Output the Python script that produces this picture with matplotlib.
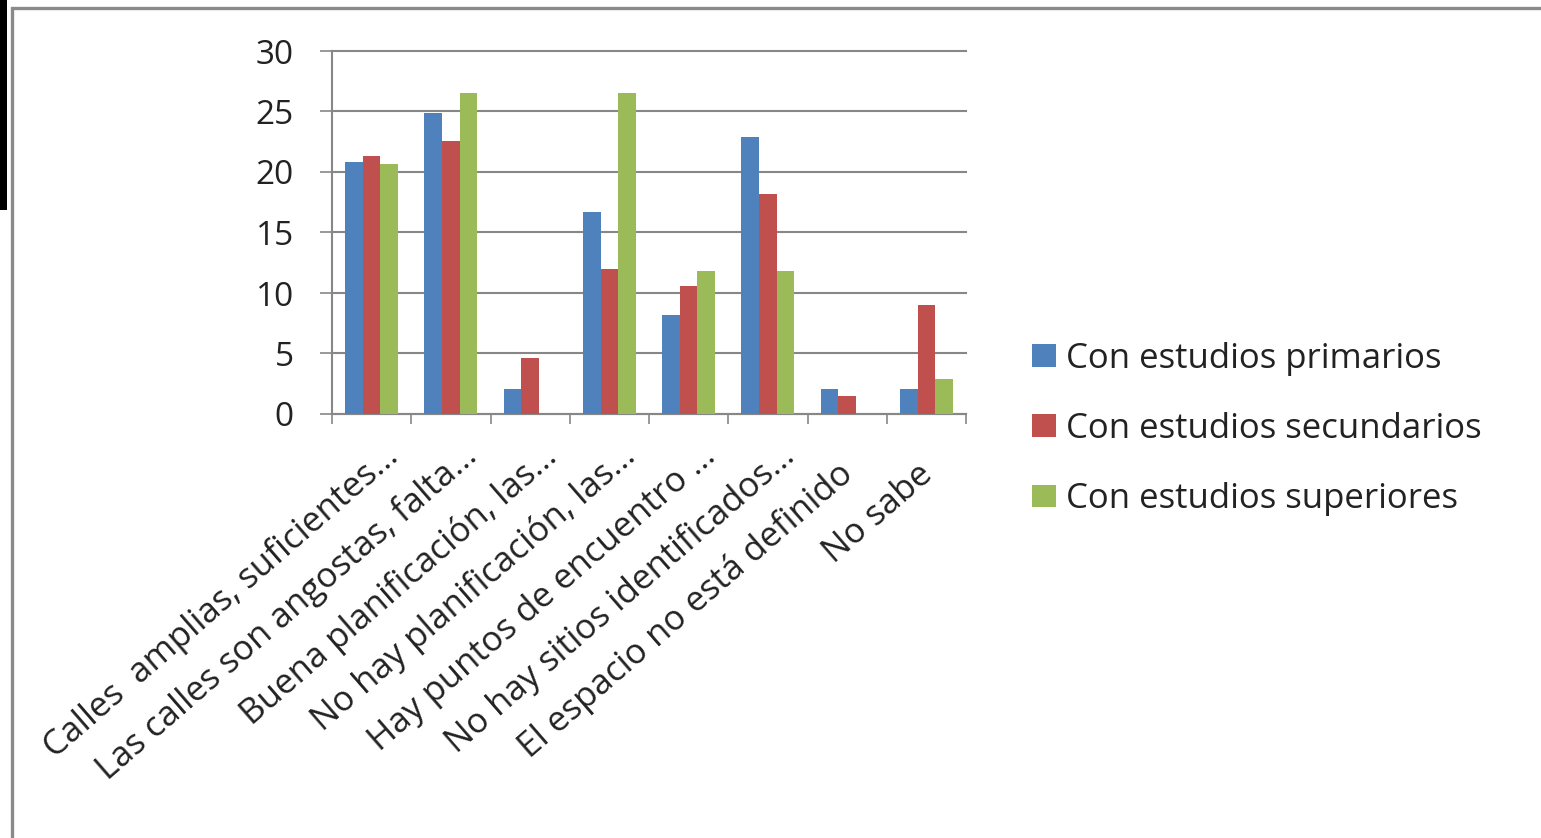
import numpy as np
import matplotlib
matplotlib.use("Agg")
import matplotlib.pyplot as plt
from matplotlib.patches import Rectangle
from matplotlib.lines import Line2D

# ---------------- data ----------------
categories = [
    "Calles  amplias, suficientes…",
    "Las calles son angostas, falta…",
    "Buena planificación, las…",
    "No hay planificación, las…",
    "Hay puntos de encuentro …",
    "No hay sitios identificados…",
    "El espacio no está definido",
    "No sabe",
]
series_names = ["Con estudios primarios", "Con estudios secundarios", "Con estudios superiores"]
primarios = [20.8, 24.9, 2.1, 16.7, 8.2, 22.9, 2.1, 2.1]
secundarios = [21.3, 22.6, 4.6, 12.0, 10.6, 18.2, 1.5, 9.0]
superiores = [20.7, 26.5, 0.0, 26.5, 11.8, 11.8, 0.0, 2.9]
y_ticks = [0, 5, 10, 15, 20, 25, 30]

colors = ["#4F81BD", "#C0504D", "#9BBB59"]
FONT = ["Open Sans", "DejaVu Sans"]
plt.rcParams["font.family"] = FONT

W, H = 1541, 838
DPI = 100
fig = plt.figure(figsize=(W / DPI, H / DPI), dpi=DPI)
fig.patch.set_facecolor("white")

# outer frame + black strip
fig.add_artist(Line2D([12 / W, 12 / W, 1.0], [0.0, 1 - 8 / H, 1 - 8 / H],
                      transform=fig.transFigure, color="#8a8a8a", lw=2.4,
                      solid_joinstyle="miter"))
fig.add_artist(Rectangle((0, 1 - 210 / H), 7 / W, 210 / H, transform=fig.transFigure,
                         facecolor="black", edgecolor="none"))

ax = fig.add_axes([332 / W, 1 - 414 / H, (966 - 332) / W, (414 - 51) / H])
x = np.arange(len(categories))
bw = 1 / 4.5
all_series = [primarios, secundarios, superiores]
for k, (vals, name, col) in enumerate(zip(all_series, series_names, colors)):
    ax.bar(x + (k - 1) * bw, vals, width=bw, color=col, label=name, zorder=3,
           linewidth=0)

ax.set_xlim(-0.5, len(categories) - 0.5)
ax.set_ylim(0, 30)
ax.set_yticks(y_ticks)
ax.set_yticklabels([str(t) for t in y_ticks], fontsize=24, color="#222222")
ax.set_xticks(np.arange(-0.5, len(categories) + 0.5, 1))
ax.set_xticklabels([])
gray = "#878787"
ax.grid(axis="y", color=gray, lw=1.5, zorder=0)
for gl in ax.get_ygridlines():
    gl.set_clip_on(False)
ax.tick_params(axis="y", length=8.5, width=1.2, color=gray, pad=19)
ax.tick_params(axis="x", length=7.5, width=1.2, color=gray)
for s in ["top", "right"]:
    ax.spines[s].set_visible(False)
for s in ["left", "bottom"]:
    ax.spines[s].set_color(gray)
    ax.spines[s].set_linewidth(1.5)

# category labels
LFS = 25
ROT = 41
t = fig.text(0, 0, "…", fontsize=LFS)
fig.canvas.draw()
ell_w = t.get_window_extent().width * 72 / DPI
t.remove()
ca, sa = np.cos(np.radians(ROT)), np.sin(np.radians(ROT))
base_dx, base_dy = 28 * 0.72, -45 * 0.72
for i, lab in enumerate(categories):
    dx, dy = base_dx, base_dy
    if not lab.endswith("…"):
        dx -= ell_w * ca
        dy -= ell_w * sa
    ax.annotate(lab, xy=(i, 0), xycoords=("data", "axes fraction"),
                xytext=(dx, dy), textcoords="offset points",
                rotation=ROT, rotation_mode="anchor", ha="right", va="baseline",
                fontsize=LFS, color="#222222", annotation_clip=False)

leg = fig.legend(loc="center left", bbox_to_anchor=(1032 / W, 1 - 429 / H),
                 frameon=False, fontsize=25, borderpad=0, borderaxespad=0,
                 handlelength=0.69, handleheight=0.63, handletextpad=0.29,
                 labelspacing=1.04)
for txt in leg.get_texts():
    txt.set_color("#222222")

fig.savefig("out.png", dpi=DPI, facecolor="white")
